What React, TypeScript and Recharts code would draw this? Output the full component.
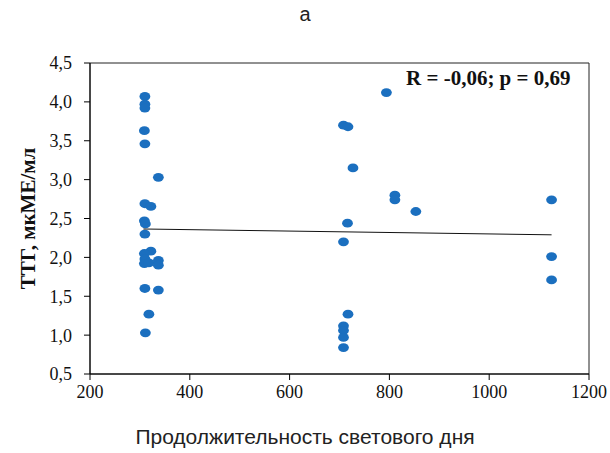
import { ScatterChart, Scatter, XAxis, YAxis, ReferenceArea } from "recharts";

// daylight duration (x) vs TSH (y)
const dayLength = [
  310, 310, 310, 309, 310, 337, 310, 322, 309, 311, 310, 322, 309, 310, 309, 318, 337, 337, 310, 337, 318, 311,
  794, 708, 717, 727, 811, 811, 853, 716, 708, 717, 708, 708, 708, 708,
  1125, 1125, 1125,
];
const tsh = [
  4.07, 3.97, 3.92, 3.63, 3.46, 3.03, 2.69, 2.655, 2.47, 2.43, 2.3, 2.08, 2.05, 1.98, 1.92, 1.93, 1.96, 1.9, 1.6, 1.58, 1.27, 1.03,
  4.12, 3.7, 3.68, 3.15, 2.8, 2.74, 2.59, 2.44, 2.2, 1.27, 1.12, 1.06, 0.97, 0.84,
  2.74, 2.01, 1.71,
];
const trendX = [307, 1125];
const trendY = [2.365, 2.29];
const xTicks = [200, 400, 600, 800, 1000, 1200];
const yTicks = [0.5, 1, 1.5, 2, 2.5, 3, 3.5, 4, 4.5];

const points = dayLength.map((x, i) => ({ x, y: tsh[i] }));
const trend = trendX.map((x, i) => ({ x, y: trendY[i] }));

const serif = "'Liberation Serif', 'Times New Roman', serif";
const sans = "'Liberation Sans', Arial, sans-serif";

const Dot = (props: any) => (
  <ellipse cx={props.cx} cy={props.cy} rx={5.4} ry={4.4} fill="#1b6fbf" />
);

export default function App() {
  return (
    <div style={{ position: "absolute", left: 0, top: 0, width: 610, height: 453, background: "#fff" }}>
      <div style={{ position: "absolute", left: 0, width: 610, top: 3, textAlign: "center", fontFamily: sans, fontSize: 20, color: "#222" }}>
        а
      </div>
      <ScatterChart width={610} height={453} margin={{ top: 63, right: 21, bottom: 49, left: 0 }}>
        <XAxis
          type="number"
          dataKey="x"
          domain={[200, 1200]}
          ticks={xTicks}
          height={30}
          tickSize={6}
          tickMargin={5}
          stroke="#000"
          tick={{ fill: "#111", fontFamily: serif, fontSize: 18 }}
          allowDataOverflow
        />
        <YAxis
          type="number"
          dataKey="y"
          domain={[0.5, 4.5]}
          ticks={yTicks}
          width={90}
          tickSize={6}
          tickMargin={12}
          stroke="#000"
          tick={{ fill: "#111", fontFamily: serif, fontSize: 18 }}
          tickFormatter={(v: number) => v.toFixed(1).replace(".", ",")}
          label={{
            value: "ТТГ, мкМЕ/мл",
            angle: -90,
            position: "insideLeft",
            offset: 28,
            style: { textAnchor: "middle", fontFamily: serif, fontSize: 21, fontWeight: "bold", fill: "#111" },
          }}
          allowDataOverflow
        />
        <ReferenceArea x1={200} x2={1200} y1={0.5} y2={4.5} fill="none" stroke="#222" strokeWidth={1} ifOverflow="visible" />
        <Scatter data={points} shape={<Dot />} isAnimationActive={false} />
        <Scatter
          data={trend}
          line={{ stroke: "#111", strokeWidth: 1 }}
          shape={() => null}
          isAnimationActive={false}
        />
      </ScatterChart>
      <div style={{ position: "absolute", left: 406, top: 66, fontFamily: serif, fontSize: 21, fontWeight: "bold", color: "#111", whiteSpace: "nowrap" }}>
        R = -0,06; p = 0,69
      </div>
      <div style={{ position: "absolute", left: 0, width: 610, top: 425, textAlign: "center", fontFamily: sans, fontSize: 21, color: "#222" }}>
        Продолжительность светового дня
      </div>
    </div>
  );
}
